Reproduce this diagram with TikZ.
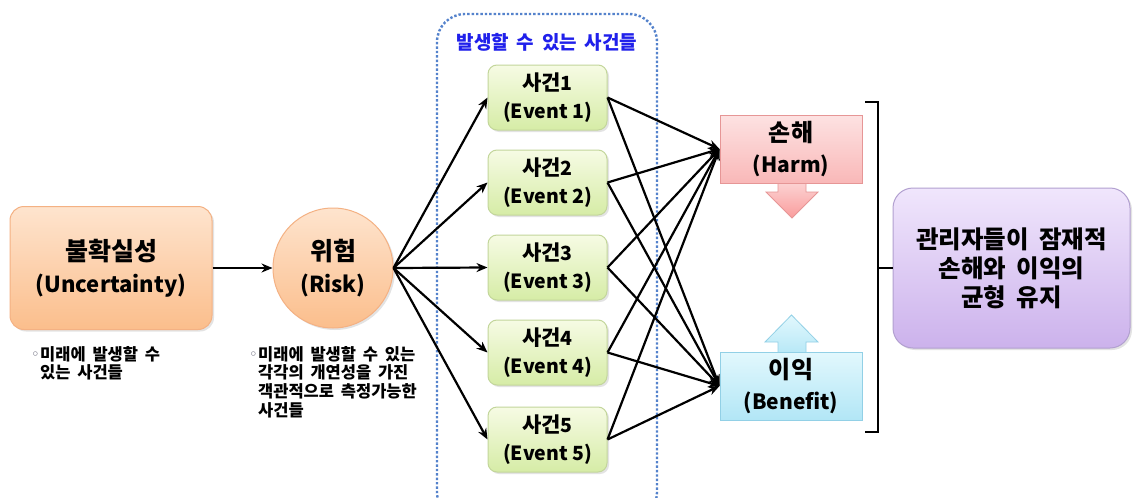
\documentclass[tikz,border=0pt]{standalone}
\usepackage{fontspec}
\setmainfont{Noto Sans CJK KR}
\newfontfamily\kofont{Noto Sans CJK KR}[WordSpace=1.8]
\newfontfamily\symfont{DejaVu Sans}
\usetikzlibrary{arrows.meta,shadows}

\definecolor{orgtop}{RGB}{254,228,206}
\definecolor{orgbot}{RGB}{251,190,140}
\definecolor{orgline}{RGB}{244,177,131}
\definecolor{grntop}{RGB}{246,251,228}
\definecolor{grnbot}{RGB}{214,236,166}
\definecolor{grnline}{RGB}{195,214,155}
\definecolor{pnktop}{RGB}{253,226,226}
\definecolor{pnkbot}{RGB}{249,184,184}
\definecolor{pnkline}{RGB}{230,150,150}
\definecolor{cyntop}{RGB}{226,248,253}
\definecolor{cynbot}{RGB}{178,230,246}
\definecolor{cynline}{RGB}{146,208,230}
\definecolor{purtop}{RGB}{240,230,252}
\definecolor{purbot}{RGB}{204,178,236}
\definecolor{purline}{RGB}{178,160,208}
\definecolor{dotblue}{RGB}{84,130,204}
\definecolor{titleblue}{RGB}{32,32,235}
\definecolor{bulgray}{RGB}{90,90,110}

% Korean words are set a little larger than the Latin glosses under them
\newcommand{\ko}[2]{{\kofont\fontsize{#1}{#1}\selectfont #2}}

\tikzset{
  soft/.style={drop shadow={opacity=0.22,shadow xshift=2pt,shadow yshift=-2pt}},
  uncbox/.style={draw=orgline,line width=1pt,rounded corners=14pt,top color=orgtop,bottom color=orgbot,
    minimum width=202pt,minimum height=123pt,inner sep=0pt,align=center,font=\fontsize{22}{32}\selectfont\bfseries,soft},
  riskcircle/.style={circle,draw=orgline,line width=1pt,top color=orgtop,bottom color=orgbot,
    minimum size=120pt,inner sep=0pt,align=center,font=\fontsize{22}{32}\selectfont\bfseries,soft},
  eventbox/.style={draw=grnline,line width=1pt,rounded corners=9pt,top color=grntop,bottom color=grnbot,
    minimum width=119pt,minimum height=65pt,inner sep=0pt,align=center,font=\fontsize{19.5}{28}\selectfont\bfseries,soft},
  harmbox/.style={draw=pnkline,line width=1pt,top color=pnktop,bottom color=pnkbot,
    minimum width=142pt,minimum height=68pt,inner sep=0pt,align=center,font=\fontsize{21}{31}\selectfont\bfseries},
  benbox/.style={draw=cynline,line width=1pt,top color=cyntop,bottom color=cynbot,
    minimum width=142pt,minimum height=68pt,inner sep=0pt,align=center,font=\fontsize{21}{31}\selectfont\bfseries},
  finbox/.style={draw=purline,line width=1pt,rounded corners=20pt,top color=purtop,bottom color=purbot,
    minimum width=237pt,minimum height=160pt,inner sep=0pt,align=center,font=\kofont\fontsize{24.5}{29}\selectfont\bfseries,soft},
  notetext/.style={anchor=north west,align=left,inner sep=0pt,font=\kofont\fontsize{16.5}{18.6}\selectfont\bfseries},
  link/.style={line width=2.2pt,-{Stealth[length=11pt,width=9pt]}},
  bracket/.style={line width=2.2pt},
}

\newcommand{\bul}{\llap{{\symfont\fontsize{12}{12}\selectfont\color{bulgray}\raisebox{1.5pt}{◦}}\hspace{1pt}}}

\begin{document}
\begin{tikzpicture}[x=1pt,y=-1pt]
\useasboundingbox (0,0) rectangle (1133,498);
\fill[white] (0,0) rectangle (1133,498);

% dotted frame around the set of events
\draw[dotblue,line width=2.4pt,dotted,rounded corners=28pt] (437,14) rectangle (657,520);
\node[font=\kofont\fontsize{19}{20}\selectfont\bfseries,text=titleblue] (title) at (547,42) {발생할 수 있는 사건들};

% source nodes
\node[uncbox] (unc) at (111,268) {\ko{25}{불확실성}\\(Uncertainty)};
\node[riskcircle] (risk) at (333,268) {\ko{25}{위험}\\(Risk)};

\node[notetext] (uncnote) at (40,346) {\bul 미래에 발생할 수\\있는 사건들};
\node[notetext] (risknote) at (258,346) {\bul 미래에 발생할 수 있는\\각각의 개연성을 가진\\객관적으로 측정가능한\\사건들};

% events
\node[eventbox] (e1) at (547.5,97.5) {\ko{21}{사건}1\\(Event 1)};
\node[eventbox] (e2) at (547.5,182.5) {\ko{21}{사건}2\\(Event 2)};
\node[eventbox] (e3) at (547.5,267.5) {\ko{21}{사건}3\\(Event 3)};
\node[eventbox] (e4) at (547.5,352.5) {\ko{21}{사건}4\\(Event 4)};
\node[eventbox] (e5) at (547.5,439.5) {\ko{21}{사건}5\\(Event 5)};

% outcome arrows behind the outcome boxes
\path[top color=pnktop!80!pnkbot,bottom color=pnkbot!85!red,draw=pnkline,line width=0.8pt]
  (778,178) -- (806,178) -- (806,192) -- (818,192) -- (792,218) -- (766,192) -- (778,192) -- cycle;
\path[top color=cyntop,bottom color=cynbot,draw=cynline,line width=0.8pt]
  (778,358) -- (778,342) -- (765,342) -- (791.5,315) -- (818,342) -- (806,342) -- (806,358) -- cycle;

\node[harmbox] (harm) at (791,149) {\ko{24}{손해}\\(Harm)};
\node[benbox] (ben) at (791,386) {\ko{24}{이익}\\(Benefit)};

\node[finbox] (fin) at (1011.5,268) {관리자들이 잠재적\\손해와 이익의\\균형 유지};

% connectors
\draw[link] (unc) -- (risk);
\foreach \e in {e1,e2,e3,e4,e5}{
  \draw[link] (risk.east) -- (\e.west);
}
\foreach \e in {e1,e2,e3,e4,e5}{
  \draw[link] (\e.east) -- (harm.west);
  \draw[link] (\e.east) -- (ben.west);
}

% bracket joining both outcomes to the conclusion
\coordinate (bt) at (878,102);
\coordinate (bb) at (878,432);
\coordinate (bm) at (878,268);
\draw[bracket] ([xshift=-13pt]bt) -- (bt) -- (bb) -- ([xshift=-13pt]bb);
\draw[bracket] (bm) -- (bm -| fin.west);
\end{tikzpicture}
\end{document}
